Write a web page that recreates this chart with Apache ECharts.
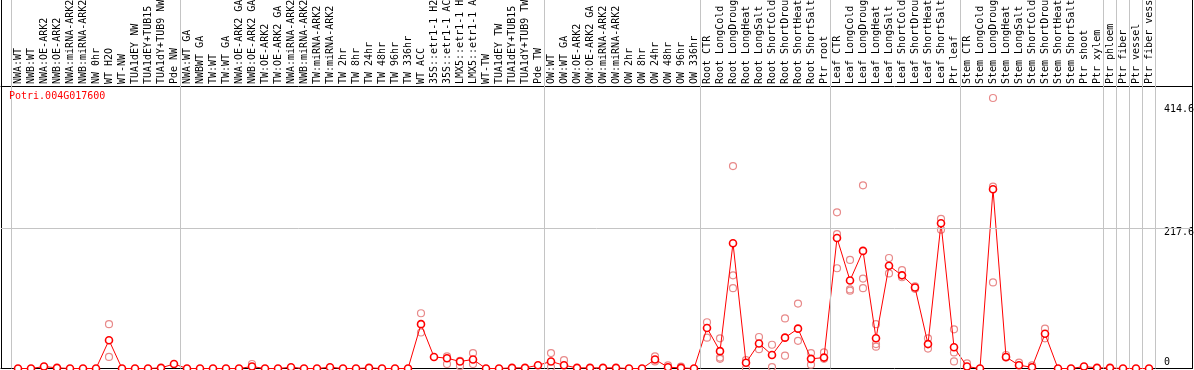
<!DOCTYPE html>
<html>
<head>
<meta charset="utf-8">
<script src="https://cdn.jsdelivr.net/npm/echarts@6/dist/echarts.min.js"></script>
<style>
html,body{margin:0;padding:0;background:#fff;}
#chart{width:1194px;height:370px;}
</style>
</head>
<body>
<div id="chart"></div>
<script>
const chartTitle = 'Potri.004G017600';
const categories = [
  'NWA:WT','NWB:WT','NWA:OE-ARK2','NWB:OE-ARK2','NWA:miRNA-ARK2','NWB:miRNA-ARK2','NW 0hr','WT H2O','WT-NW','TUA1dEY NW','TUA1dEY+TUB15 NW','TUA1dY+TUB9 NW','Pde NW',
  'NWA:WT GA','NWBWT GA','TW:WT','TW:WT GA','NWA:OE-ARK2 GA','NWB:OE-ARK2 GA','TW:OE-ARK2','TW:OE-ARK2 GA','NWA:miRNA-ARK2','NWB:miRNA-ARK2','TW:miRNA-ARK2','TW:miRNA-ARK2','TW 2hr','TW 8hr','TW 24hr','TW 48hr','TW 96hr','TW 336hr','WT ACC','35S::etr1-1 H2O','35S::etr1-1 ACC','LMX5::etr1-1 H2O','LMX5::etr1-1 ACC','WT-TW','TUA1dEY TW','TUA1dEY+TUB15 TW','TUA1dY+TUB9 TW','Pde TW',
  'OW:WT','OW:WT GA','OW:OE-ARK2','OW:OE-ARK2 GA','OW:miRNA-ARK2','OW:miRNA-ARK2','OW 2hr','OW 8hr','OW 24hr','OW 48hr','OW 96hr','OW 336hr',
  'Root CTR','Root LongCold','Root LongDrought','Root LongHeat','Root LongSalt','Root ShortCold','Root ShortDrought','Root ShortHeat','Root ShortSalt','Ptr root',
  'Leaf CTR','Leaf LongCold','Leaf LongDrought','Leaf LongHeat','Leaf LongSalt','Leaf ShortCold','Leaf ShortDrought','Leaf ShortHeat','Leaf ShortSalt','Ptr leaf',
  'Stem CTR','Stem LongCold','Stem LongDrought','Stem LongHeat','Stem LongSalt','Stem ShortCold','Stem ShortDrought','Stem ShortHeat','Stem ShortSalt','Ptr shoot','Ptr xylem',
  'Ptr phloem','Ptr fiber','Ptr vessel','Ptr fiber vessel'
];
const groupSizes = [13, 28, 12, 10, 10, 11, 1, 1, 1, 1];
// mean expression
const expression = [
  0,0,3,1,0,0,0,44,0,0,0,1,7,
  0,0,0,0,0,3,0,0,2,0,0,2,0,0,1,0,0,0,69,18,16,11,14,0,0,1,1,5,
  11,5,1,1,1,1,0,0,14,2,1,0,
  63,27,195,9,39,21,48,62,15,17,
  203,137,183,47,160,145,126,38,226,33,
  3,0,279,18,5,2,54,0,0,3,1,
  1,0,0,0
];
// replicate values (null = hidden under the mean marker)
const rep1 = [
  null,null,null,null,null,null,null,69,null,null,null,null,null,
  null,null,null,null,null,7,null,null,null,null,null,null,null,null,null,null,null,null,86,null,19,12,24,null,null,null,null,null,
  24,13,null,null,null,null,null,null,19,5,3,null,
  72,47,315,13,49,37,78,101,24,25,
  243,169,285,69,172,153,128,47,233,61,
  8,null,421,21,9,5,62,null,null,null,null,
  null,null,null,null
];
const rep2 = [
  null,null,null,null,null,null,null,18,null,null,null,null,null,
  null,null,null,null,null,null,null,null,null,null,null,null,null,null,null,null,null,null,56,null,7,4,7,null,null,null,null,null,
  2,null,null,null,null,null,null,null,11,null,null,null,
  48,17,145,0,30,2,20,43,6,15,
  209,121,140,38,148,142,124,31,216,25,
  null,null,283,17,null,null,47,null,null,null,null,
  null,null,null,null
];
const rep3 = [
  null,null,null,null,null,null,null,null,null,null,null,null,null,
  null,null,null,null,null,null,null,null,null,null,null,null,null,null,null,null,null,null,null,null,null,null,null,null,null,null,null,null,
  null,null,null,null,null,null,null,null,null,null,null,null,
  null,15,125,null,null,null,null,null,null,null,
  156,123,125,34,null,null,null,null,null,11,
  null,null,134,null,null,null,null,null,null,null,null,
  null,null,null,null
];
const yTicks = [0, 217.6, 414.6];
const yGridValues = [217.6];

const FONT = 'DejaVu Sans Mono';

const separators = [-0.5];
let acc = 0;
groupSizes.forEach(n => { acc += n; separators.push(acc - 0.5); });

const mainData = expression.map((v, i) => [i, v]);
const repData = [];
[rep1, rep2, rep3].forEach(arr => arr.forEach((v, i) => { if (v !== null) repData.push([i, v]); }));

const chart = echarts.init(document.getElementById('chart'), null, {renderer: 'canvas'});
const yRich = {
  a: {fontFamily: FONT, fontSize: 10, color: '#000', padding: [14, 0, 0, 0]},
  b: {fontFamily: FONT, fontSize: 10, color: '#000', padding: [8, 0, 0, 0]},
  c: {fontFamily: FONT, fontSize: 10, color: '#000', padding: [0, 0, 12, 0]}
};
const hidden = {axisLine: {show: false}, axisTick: {show: false}, splitLine: {show: false}, axisLabel: {show: false}};
chart.setOption({
  animation: false,
  backgroundColor: '#fff',
  title: {
    text: chartTitle, left: 9, top: 91, padding: 0,
    textStyle: {fontFamily: FONT, fontSize: 10, fontWeight: 'normal', color: '#ff0000'}
  },
  grid: [
    {left: 1, right: 2, top: 0, bottom: 1.5, containLabel: false, outerBoundsMode: 'none'},
    {left: 11.5, right: 38.5, top: 86, bottom: 1.5, containLabel: false, outerBoundsMode: 'none'}
  ],
  xAxis: [{
    type: 'value', gridIndex: 0, position: 'top', offset: -86,
    min: -17 / 13, max: 1174 / 13,
    axisLine: {show: true, onZero: false, lineStyle: {color: '#000', width: 1}},
    axisTick: {show: false}, splitLine: {show: false}, axisLabel: {show: false}
  }, {
    type: 'value', gridIndex: 0, position: 'bottom', min: 0, max: 1,
    axisLine: {show: true, onZero: false, lineStyle: {color: '#000', width: 1}},
    axisTick: {show: false}, splitLine: {show: false}, axisLabel: {show: false}
  }, {
    type: 'category', gridIndex: 1, position: 'top', data: categories, boundaryGap: true,
    axisLine: {show: false, onZero: false}, axisTick: {show: false}, splitLine: {show: false},
    axisLabel: {interval: 0, rotate: -90, margin: 2, fontFamily: FONT, fontSize: 10, color: '#000', hideOverlap: false}
  }],
  yAxis: [{
    type: 'value', gridIndex: 0, position: 'right', min: 0, max: 573.5,
    axisLine: {show: true, onZero: false, lineStyle: {color: '#000', width: 1}},
    axisTick: {show: false}, splitLine: {show: false},
    axisLabel: {
      inside: true, customValues: yTicks, margin: 28, align: 'left',
      formatter: v => {
        const k = v === yTicks[2] ? 'a' : (v === yTicks[1] ? 'b' : 'c');
        return '{' + k + '|' + v + '}';
      },
      rich: yRich, hideOverlap: false
    }
  }, {
    type: 'value', gridIndex: 0, position: 'left', min: 0, max: 1,
    axisLine: {show: true, onZero: false, lineStyle: {color: '#000', width: 1}},
    axisTick: {show: false}, splitLine: {show: false}, axisLabel: {show: false}
  }, Object.assign({type: 'value', gridIndex: 1, min: 0, max: 1}, hidden)],
  series: [{
    type: 'line', data: [], silent: true, z: 1, xAxisIndex: 0, yAxisIndex: 0,
    markLine: {
      silent: true, symbol: 'none', animation: false,
      label: {show: false},
      lineStyle: {color: '#c4c4c4', width: 1, type: 'solid'},
      data: separators.map(x => ({xAxis: x})).concat(yGridValues.map(y => ({yAxis: y})))
    }
  }, {
    type: 'scatter', data: repData, z: 3, silent: true, xAxisIndex: 0, yAxisIndex: 0,
    symbol: 'circle', symbolSize: 7,
    itemStyle: {color: 'rgba(255,255,255,0)', borderColor: '#e88a8a', borderWidth: 1.2, opacity: 1}
  }, {
    type: 'line', data: mainData, z: 4, silent: true, xAxisIndex: 0, yAxisIndex: 0,
    symbol: 'circle', symbolSize: 7, showSymbol: true, showAllSymbol: true,
    lineStyle: {color: '#ff0000', width: 1},
    itemStyle: {color: '#ffffff', borderColor: '#ff0000', borderWidth: 1.6}
  }]
});
</script>
</body>
</html>
